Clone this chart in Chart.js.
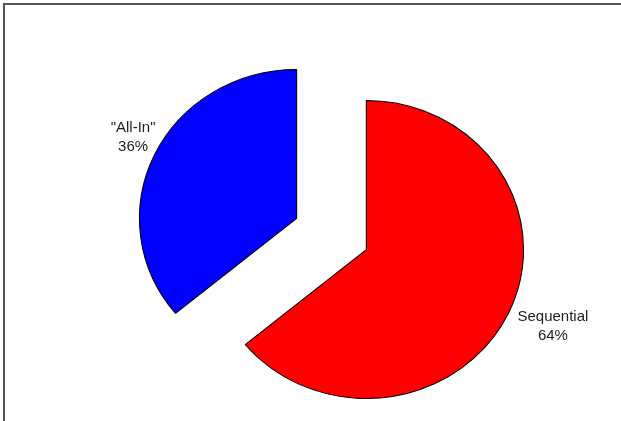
<!DOCTYPE html>
<html>
<head>
<meta charset="utf-8">
<script src="https://cdn.jsdelivr.net/npm/chart.js@4.4.0/dist/chart.umd.min.js"></script>
<style>
  html, body { margin: 0; padding: 0; background: #fff; }
  .frame { position: relative; width: 621px; height: 421px; }
  .frame::before {
    content: '';
    position: absolute;
    left: 3px; top: 3px; right: 0; bottom: 0;
    border-left: 2px solid #555;
    border-top: 2px solid #555;
    pointer-events: none;
  }
  canvas { display: block; }
</style>
</head>
<body>
<div class="frame">
  <canvas id="pieChart" width="621" height="421"></canvas>
</div>
<script>
const categories = ['Sequential', '"All-In"'];
const shares = [64, 36];
const sliceColors = ['#FF0000', '#0000FF'];

const pullOut = 36.5;   // how far every slice is pulled from the centre
const stretchX = 1.055; // pie is a touch wider than tall

// Explode slices: move each arc along its bisector by the same distance.
// (The built-in `offset` also grows the radius of big slices, so it's done here instead.)
const explodePlugin = {
  id: 'explode',
  afterDatasetUpdate(chart, args) {
    const meta = chart.getDatasetMeta(args.index);
    meta.data.forEach(arc => {
      const mid = (arc.startAngle + arc.endAngle) / 2;
      arc.x += Math.cos(mid) * pullOut;
      arc.y += Math.sin(mid) * pullOut;
    });
  }
};

const stretchPlugin = {
  id: 'stretch',
  beforeDatasetsDraw(chart) {
    const a = chart.chartArea;
    const cx = (a.left + a.right) / 2;
    const cy = (a.top + a.bottom) / 2;
    const ctx = chart.ctx;
    ctx.save();
    ctx.translate(cx, cy);
    ctx.scale(stretchX, 1);
    ctx.translate(-cx, -cy);
  },
  afterDatasetsDraw(chart) {
    chart.ctx.restore();
  }
};

// Category name and percent placed outside each slice
const sliceLabels = {
  id: 'sliceLabels',
  afterDatasetsDraw(chart, args, opts) {
    const ctx = chart.ctx;
    const meta = chart.getDatasetMeta(0);
    const a = chart.chartArea;
    const cx = (a.left + a.right) / 2;
    const cy = (a.top + a.bottom) / 2;
    ctx.save();
    ctx.font = opts.font;
    ctx.fillStyle = opts.color;
    ctx.textAlign = 'center';
    ctx.textBaseline = 'middle';
    meta.data.forEach((arc, i) => {
      const mid = (arc.startAngle + arc.endAngle) / 2;
      const x = cx + Math.cos(mid) * opts.rx + opts.shiftX;
      const y = cy + Math.sin(mid) * opts.ry + opts.shiftY;
      ctx.fillText(categories[i], x, y - opts.lineGap / 2);
      ctx.fillText(shares[i] + '%', x, y + opts.lineGap / 2);
    });
    ctx.restore();
  }
};

const ctx = document.getElementById('pieChart').getContext('2d');
new Chart(ctx, {
  type: 'pie',
  data: {
    labels: categories,
    datasets: [{
      data: shares,
      backgroundColor: sliceColors,
      borderColor: '#000',
      borderWidth: 1,
      radius: 149
    }]
  },
  options: {
    responsive: false,
    animation: false,
    events: [],
    layout: { padding: { left: 42, right: 0, top: 47, bottom: 0 } },
    plugins: {
      legend: { display: false },
      tooltip: { enabled: false },
      sliceLabels: {
        font: '15px "Liberation Sans", Arial, sans-serif',
        color: '#1e1e1e',
        rx: 232,
        ry: 222,
        shiftX: 11.5,
        shiftY: -2,
        lineGap: 19
      }
    }
  },
  plugins: [explodePlugin, stretchPlugin, sliceLabels]
});
</script>
</body>
</html>
